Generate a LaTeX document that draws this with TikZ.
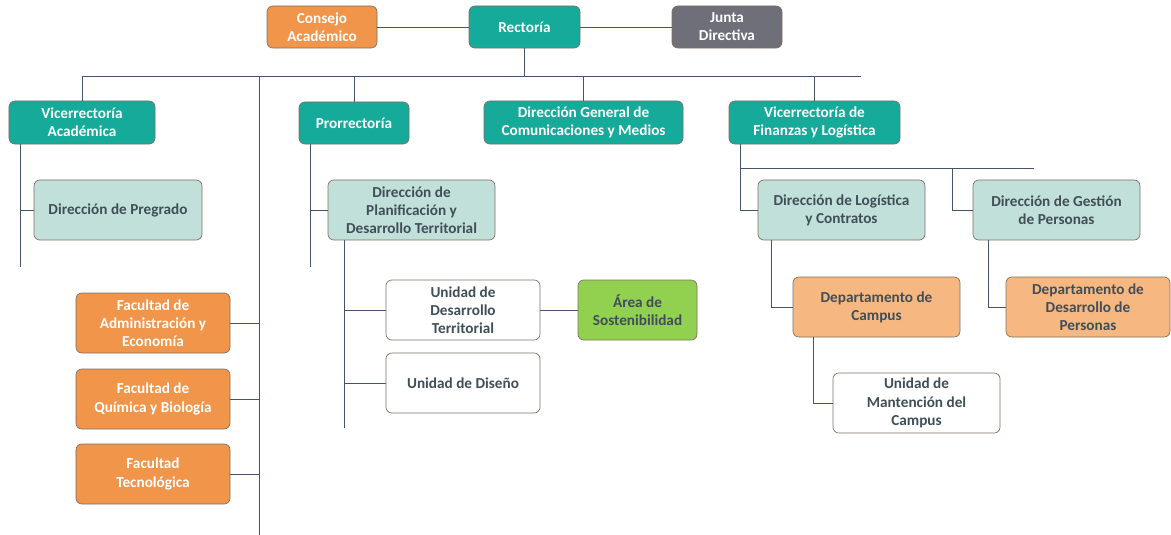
\documentclass[tikz,border=0pt]{standalone}
\usepackage{fontspec}
\setmainfont{Carlito}
\usepackage{tikz}

\definecolor{tealbox}{RGB}{21,170,153}
\definecolor{lightteal}{RGB}{194,224,218}
\definecolor{orangebox}{RGB}{240,149,74}
\definecolor{lightorange}{RGB}{246,184,128}
\definecolor{graybox}{RGB}{110,111,121}
\definecolor{greenbox}{RGB}{146,208,80}
\definecolor{boxedge}{RGB}{125,112,98}
\definecolor{linkline}{RGB}{68,84,106}
\definecolor{darktext}{RGB}{64,78,88}

\begin{document}
\begin{tikzpicture}[x=0.03cm, y=-0.03cm,
    box/.style={draw=boxedge, line width=0.6pt, rounded corners=5pt, align=center,
        inner sep=1pt, font=\fontsize{13}{15.5}\selectfont\bfseries},
    boxdim/.style 2 args={minimum width=#1, minimum height=#2},
    topbox/.style={box, fill=tealbox, text=white},
    lightbox/.style={box, fill=lightteal, text=darktext},
    facbox/.style={box, fill=orangebox, text=white},
    deptbox/.style={box, fill=lightorange, text=darktext},
    unitbox/.style={box, fill=white, text=darktext},
    link/.style={draw=linkline, line width=0.8pt}]
    \useasboundingbox (0, 0) rectangle (1171, 535);

    \node[facbox, boxdim={3.3cm}{1.26cm}] at (322, 27) (consejo) {Consejo\\Académico};
    \node[topbox, boxdim={3.33cm}{1.26cm}] at (524.5, 27) (rectoria) {Rectoría};
    \node[box, fill=graybox, text=white, boxdim={3.3cm}{1.26cm}] at (727, 27) (junta) {Junta\\Directiva};

    \node[topbox, boxdim={4.38cm}{1.29cm}] at (82, 122.5) (va) {Vicerrectoría\\Académica};
    \node[topbox, boxdim={3.3cm}{1.26cm}] at (354, 123) (pror) {Prorrectoría};
    \node[topbox, boxdim={5.97cm}{1.29cm}] at (583.5, 122.5) (dgc) {Dirección General de\\Comunicaciones y Medios};
    \node[topbox, boxdim={5.13cm}{1.29cm}] at (814.5, 122.5) (vfl) {Vicerrectoría de\\Finanzas y Logística};

    \node[lightbox, boxdim={5.04cm}{1.8cm}] at (118, 210) (pregrado) {Dirección de Pregrado};
    \node[facbox, boxdim={4.62cm}{1.8cm}] at (153, 323) (fae) {Facultad de\\Administración y\\Economía};
    \node[facbox, boxdim={4.62cm}{1.8cm}] at (153, 399) (fqb) {Facultad de\\Química y Biología};
    \node[facbox, boxdim={4.62cm}{1.8cm}] at (153, 474) (ftec) {Facultad\\Tecnológica};

    \node[lightbox, boxdim={5.01cm}{1.8cm}] at (411.5, 210) (dpdt) {Dirección de\\Planificación y\\Desarrollo Territorial};
    \node[unitbox, boxdim={4.62cm}{1.8cm}] at (463, 310) (udt) {Unidad de\\Desarrollo\\Territorial};
    \node[box, fill=greenbox, text=darktext, boxdim={3.57cm}{1.8cm}] at (637.5, 310) (sost) {Área de\\Sostenibilidad};
    \node[unitbox, boxdim={4.62cm}{1.8cm}] at (463, 383) (udis) {Unidad de Diseño};

    \node[lightbox, boxdim={5.01cm}{1.8cm}] at (841.5, 210) (dlc) {Dirección de Logística\\y Contratos};
    \node[lightbox, boxdim={5.01cm}{1.8cm}] at (1056.5, 210) (dgp) {Dirección de Gestión\\de Personas};
    \node[deptbox, boxdim={5.01cm}{1.8cm}] at (876.5, 307) (campus) {Departamento de\\Campus};
    \node[deptbox, boxdim={4.92cm}{1.8cm}] at (1088, 307) (ddp) {Departamento de\\Desarrollo de\\Personas};
    \node[unitbox, boxdim={5.01cm}{1.8cm}] at (916.5, 403) (umc) {Unidad de\\Mantención del\\Campus};

    % free ends of the trunk lines
    \coordinate (busL) at (82, 76);
    \coordinate (busR) at (861, 76);
    \coordinate (spineBot) at (259, 535);
    \coordinate (vaDrop) at (20, 267);
    \coordinate (prorDrop) at (310, 267);
    \coordinate (dpdtDrop) at (344, 428);
    \coordinate (vflBusL) at (740, 168);
    \coordinate (vflBusR) at (1034, 168);
    \coordinate (dgpDrop) at (952, 168);
    \coordinate (dlcDrop) at (771, 240);
    \coordinate (dgpDrop2) at (988, 240);
    \coordinate (campusDrop) at (813, 337);

    \draw[link] (consejo) -- (rectoria);
    \draw[link] (rectoria) -- (junta);
    \draw[link] (rectoria) -- (rectoria |- busL);
    \draw[link] (busL) -- (busR);
    \draw[link] (busL) -- (va);
    \draw[link] (pror |- busL) -- (pror);
    \draw[link] (dgc |- busL) -- (dgc);
    \draw[link] (vfl |- busL) -- (vfl);
    \draw[link] (spineBot |- busL) -- (spineBot);

    \draw[link] (vaDrop |- va.south) -- (vaDrop);
    \draw[link] (pregrado.west) -- (pregrado.west -| vaDrop);
    \draw[link] (fae.east) -- (fae.east -| spineBot);
    \draw[link] (fqb.east) -- (fqb.east -| spineBot);
    \draw[link] (ftec.east) -- (ftec.east -| spineBot);

    \draw[link] (prorDrop |- pror.south) -- (prorDrop);
    \draw[link] (dpdt.west) -- (dpdt.west -| prorDrop);
    \draw[link] (dpdtDrop |- dpdt.south) -- (dpdtDrop);
    \draw[link] (udt.west) -- (udt.west -| dpdtDrop);
    \draw[link] (udis.west) -- (udis.west -| dpdtDrop);
    \draw[link] (udt) -- (sost);

    \draw[link] (vflBusL |- vfl.south) -- (dlc.west -| vflBusL) -- (dlc.west);
    \draw[link] (vflBusL) -- (vflBusR);
    \draw[link] (dgpDrop) -- (dgp.west -| dgpDrop) -- (dgp.west);
    \draw[link] (dlcDrop) -- (campus.west -| dlcDrop) -- (campus.west);
    \draw[link] (dgpDrop2) -- (ddp.west -| dgpDrop2) -- (ddp.west);
    \draw[link] (campusDrop) -- (umc.west -| campusDrop) -- (umc.west);
\end{tikzpicture}
\end{document}
